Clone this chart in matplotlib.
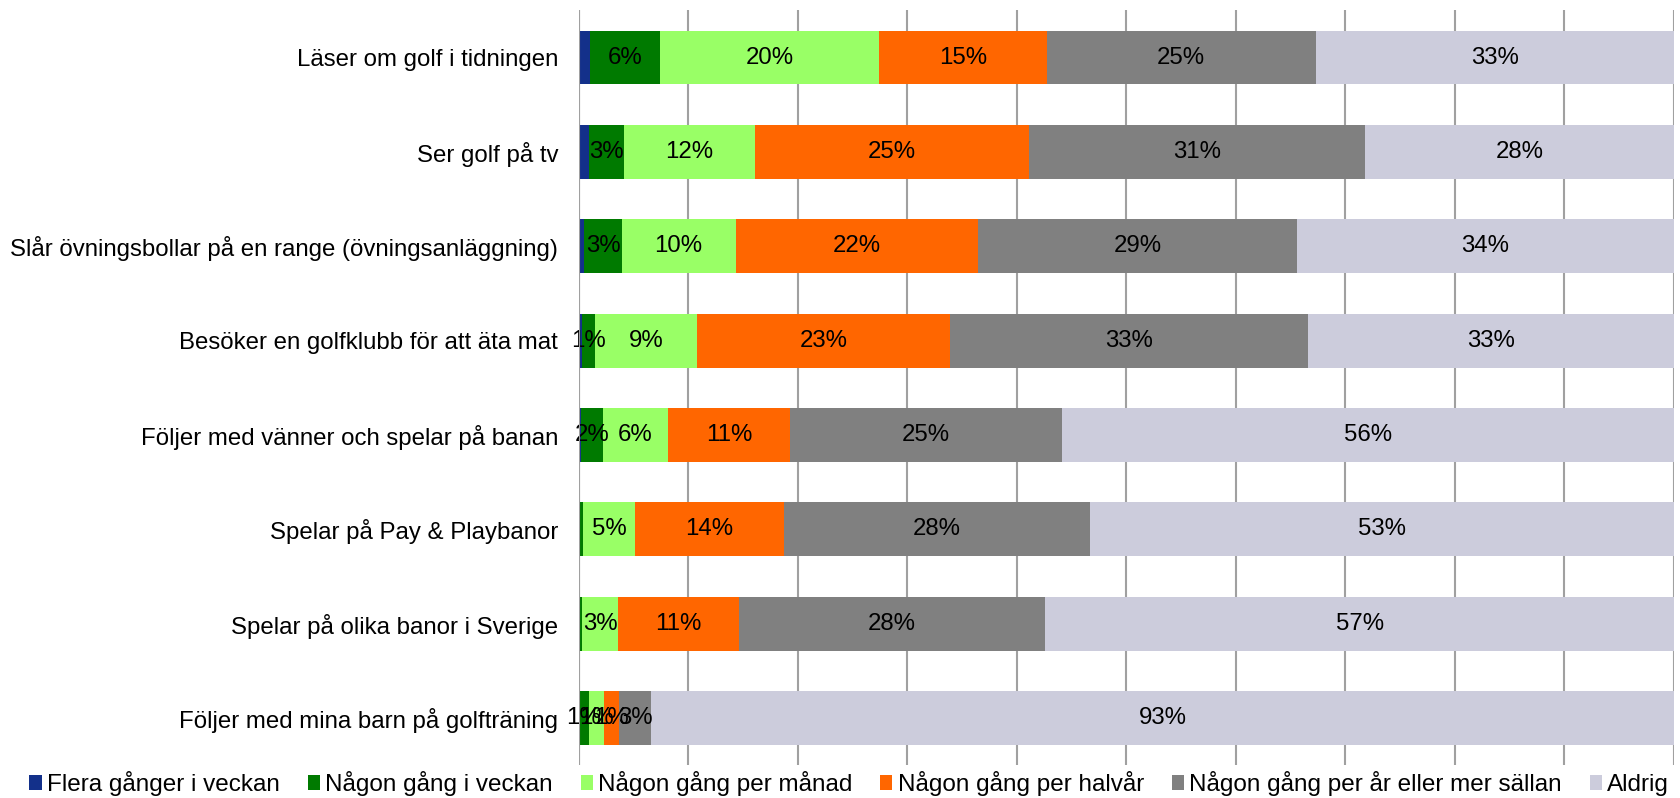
import numpy as np
import matplotlib
matplotlib.use("Agg")
import matplotlib.pyplot as plt

plt.rcParams['font.family'] = ['Liberation Sans', 'DejaVu Sans']

# Kategorier (uppifrån och ned)
categories = [
    "Läser om golf i tidningen",
    "Ser golf på tv",
    "Slår övningsbollar på en range (övningsanläggning)",
    "Besöker en golfklubb för att äta mat",
    "Följer med vänner och spelar på banan",
    "Spelar på Pay & Playbanor",
    "Spelar på olika banor i Sverige",
    "Följer med mina barn på golfträning",
]

series_names = [
    "Flera gånger i veckan",
    "Någon gång i veckan",
    "Någon gång per månad",
    "Någon gång per halvår",
    "Någon gång per år eller mer sällan",
    "Aldrig",
]

# Andelar i procent, en lista per serie (samma ordning som categories)
flera_ggr_veckan = [1.0, 0.9, 0.5, 0.3, 0.2, 0.0, 0.0, 0.0]
ngn_gang_veckan = [6.4, 3.2, 3.4, 1.2, 2.0, 0.4, 0.3, 0.9]
ngn_gang_manad = [20.0, 12.0, 10.4, 9.3, 5.9, 4.7, 3.3, 1.4]
ngn_gang_halvar = [15.3, 25.0, 22.1, 23.1, 11.2, 13.6, 11.0, 1.4]
ngn_gang_ar = [24.6, 30.7, 29.2, 32.7, 24.8, 28.0, 28.0, 2.9]
aldrig = [32.7, 28.2, 34.4, 33.4, 55.9, 53.3, 57.4, 93.4]

colors = ["#13308A", "#007A00", "#99FF66", "#FF6600", "#808080", "#CCCCDC"]

all_series = [flera_ggr_veckan, ngn_gang_veckan, ngn_gang_manad,
              ngn_gang_halvar, ngn_gang_ar, aldrig]

fig = plt.figure(figsize=(16.81, 7.98), dpi=100)
ax = fig.add_axes([0.3444, 0.041, 0.6514, 0.946])

y = np.arange(len(categories))
left = np.zeros(len(categories))
handles = []
for i, (name, vals, col) in enumerate(zip(series_names, all_series, colors)):
    vals = np.array(vals)
    bars = ax.barh(y, vals, left=left, height=0.57, color=col, label=name, zorder=3)
    handles.append(bars)
    # etiketter (första serien visas inte, inte heller 0 %)
    if i > 0:
        for yy, l, v in zip(y, left, vals):
            if round(v) >= 1:
                ax.text(l + v / 2, yy, f"{round(v)}%", ha="center", va="center",
                        fontsize=17.3, color="black", zorder=4)
    left += vals

ax.set_xlim(0, 100)
ax.set_ylim(len(categories) - 0.5, -0.5)
ax.set_xticks(np.arange(0, 101, 10))
ax.set_xticklabels([])
ax.tick_params(axis="x", length=0)
ax.tick_params(axis="y", length=0, pad=15, labelsize=17.3)
ax.set_yticks(y)
ax.set_yticklabels(categories)
ax.grid(axis="x", color="#A0A0A0", linewidth=1.5, zorder=0)
for s in ax.spines.values():
    s.set_visible(False)
ax.axvline(0, color="#A0A0A0", linewidth=1.5, zorder=5)

fig.legend(handles=handles, labels=series_names, loc="lower left",
           bbox_to_anchor=(0.006, -0.022), ncol=6, frameon=False,
           fontsize=17.45, handlelength=0.5, handleheight=0.6,
           handletextpad=0.22, columnspacing=1.15, borderpad=0.3)

fig.savefig("out.png", dpi=100)
